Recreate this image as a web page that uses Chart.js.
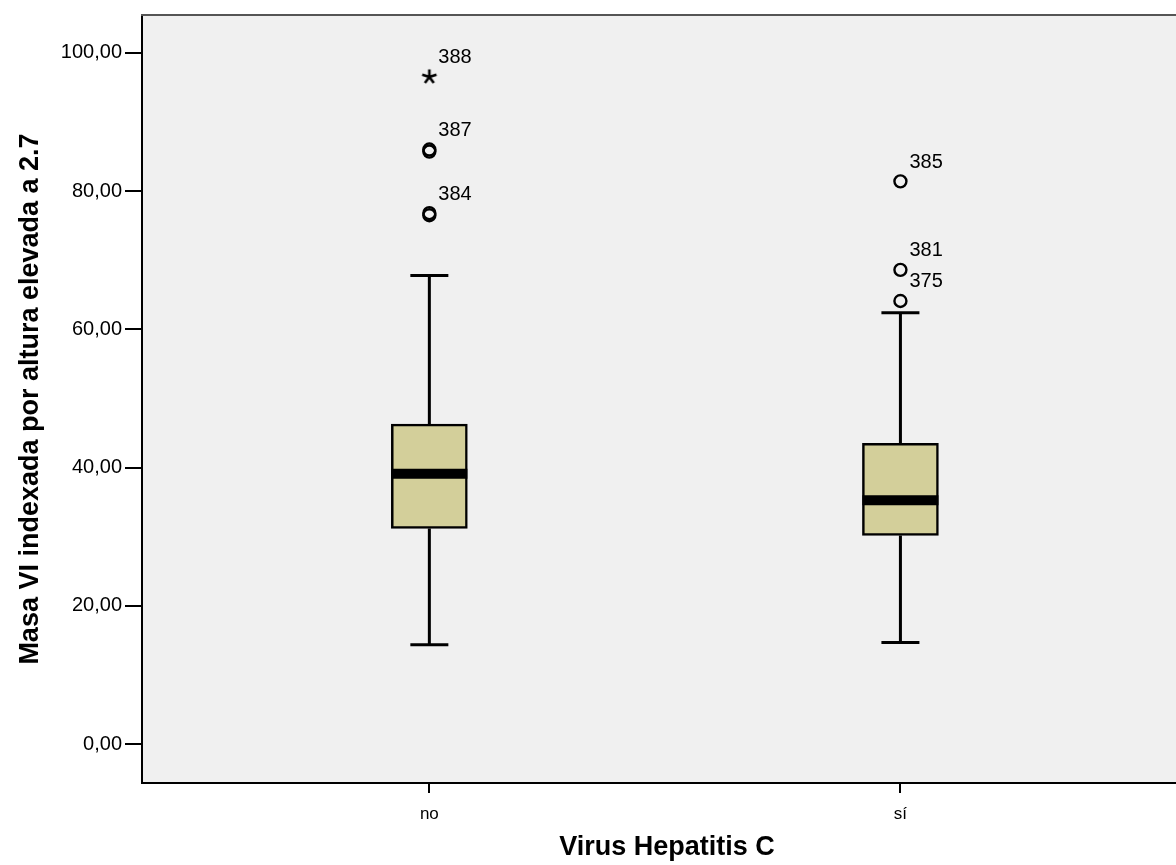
<!DOCTYPE html>
<html>
<head>
<meta charset="utf-8">
<script src="https://cdn.jsdelivr.net/npm/chart.js@4/dist/chart.umd.min.js"></script>
<style>
  html, body { margin: 0; padding: 0; background: #ffffff; }
  #wrap { width: 1176px; height: 865px; }
</style>
</head>
<body>
<div id="wrap"><canvas id="c" width="1176" height="865"></canvas></div>
<script>
// ---- data ----
const categories = ['no', 'sí'];
const groupX = [1, 2];
const whiskerLow = [14.4, 14.7];
const quartile1 = [31.2, 30.2];
const medians = [39.1, 35.3];
const quartile3 = [46.3, 43.5];
const whiskerHigh = [67.8, 62.4];

const outlierGroup = [0, 0, 0, 0, 0, 1, 1, 1];
const outlierValue = [96.5, 86.0, 85.7, 76.8, 76.5, 81.4, 68.6, 64.1];
const outlierLabel = ['388', '387', '', '384', '', '385', '381', '375'];
const outlierStar  = [true, false, false, false, false, false, false, false];

const yTicks = [0, 20, 40, 60, 80, 100];
const xTitle = 'Virus Hepatitis C';
const yTitle = 'Masa VI indexada por altura elevada a 2.7';

// ---- style constants ----
const FONT = "'Liberation Sans', Arial, Helvetica, sans-serif";
const BOX_FILL = '#d3cf9a';
const PLOT_BG = '#f0f0f0';
const BOX_PX = 76;      // box width in pixels
const CAP_PX = 38;      // whisker cap width in pixels
const X_MIN = 0.39, X_MAX = 2.585;
const X_PX_PER_UNIT = (1176 - 142) / (X_MAX - X_MIN);
const boxHalf = BOX_PX / 2 / X_PX_PER_UNIT;
const capHalf = CAP_PX / 2 / X_PX_PER_UNIT;

// asterisk marker (5 arms) as a small canvas point style
const starCanvas = (() => {
  const c = document.createElement('canvas');
  c.width = 18; c.height = 18;
  const g = c.getContext('2d');
  g.strokeStyle = '#000'; g.lineWidth = 2.6; g.lineCap = 'butt';
  const cx = 9, cy = 9, r = 7.5;
  g.beginPath();
  for (let k = 0; k < 5; k++) {
    const ang = -Math.PI / 2 + k * 2 * Math.PI / 5;
    g.moveTo(cx, cy);
    g.lineTo(cx + r * Math.cos(ang), cy + r * Math.sin(ang));
  }
  g.stroke();
  return c;
})();

// build datasets from arrays
const boxData = groupX.map((x, i) => ({ x: x, y: [quartile1[i], quartile3[i]] }));
const medianData = [];
const whiskerData = [];
groupX.forEach((x, i) => {
  medianData.push({ x: x - boxHalf, y: medians[i] }, { x: x + boxHalf, y: medians[i] }, { x: x, y: null });
  whiskerData.push({ x: x, y: quartile1[i] }, { x: x, y: whiskerLow[i] }, { x: x, y: null });
  whiskerData.push({ x: x, y: quartile3[i] }, { x: x, y: whiskerHigh[i] }, { x: x, y: null });
  whiskerData.push({ x: x - capHalf, y: whiskerLow[i] }, { x: x + capHalf, y: whiskerLow[i] }, { x: x, y: null });
  whiskerData.push({ x: x - capHalf, y: whiskerHigh[i] }, { x: x + capHalf, y: whiskerHigh[i] }, { x: x, y: null });
});
const outlierData = outlierValue.map((v, i) => ({ x: groupX[outlierGroup[i]], y: v }));

const bgPlugin = {
  id: 'plotBg',
  beforeDraw(chart) {
    const { ctx, chartArea: a } = chart;
    ctx.save();
    ctx.fillStyle = PLOT_BG;
    ctx.fillRect(a.left, a.top, a.right - a.left, a.bottom - a.top);
    ctx.restore();
  },
  afterDraw(chart) {
    const { ctx, chartArea: a } = chart;
    ctx.save();
    ctx.strokeStyle = '#555555';
    ctx.lineWidth = 2;
    ctx.beginPath();
    ctx.moveTo(a.left - 1, a.top);
    ctx.lineTo(a.right, a.top);
    ctx.stroke();
    // outlier labels
    const xs = chart.scales.x, ys = chart.scales.y;
    ctx.fillStyle = '#000';
    ctx.font = '20px ' + FONT;
    ctx.textAlign = 'left';
    ctx.textBaseline = 'middle';
    outlierData.forEach((p, i) => {
      if (!outlierLabel[i]) return;
      const px = xs.getPixelForValue(p.x), py = ys.getPixelForValue(p.y);
      ctx.fillText(outlierLabel[i], px + 9, py - 19);
    });
    // x axis title (slightly right of the plot centre, as in the reference)
    ctx.font = 'bold 27px ' + FONT;
    ctx.textAlign = 'center';
    ctx.fillText(xTitle, (a.left + a.right) / 2 + 8, xs.bottom - 17);
    ctx.restore();
  }
};

new Chart(document.getElementById('c'), {
  type: 'bar',
  data: {
    datasets: [
      {
        type: 'scatter', label: 'outliers', data: outlierData, order: 0,
        pointStyle: outlierData.map((p, i) => outlierStar[i] ? starCanvas : 'circle'),
        pointRadius: 6,
        pointBorderWidth: 2.4, pointBorderColor: '#000', pointBackgroundColor: 'rgba(0,0,0,0)',
        pointHoverRadius: 0
      },
      {
        type: 'line', label: 'median', data: medianData, order: 1,
        borderColor: '#000', borderWidth: 10, pointRadius: 0, spanGaps: false, borderCapStyle: 'butt'
      },
      {
        type: 'bar', label: 'box', data: boxData, order: 2,
        backgroundColor: BOX_FILL, borderColor: '#000', borderWidth: 2.5,
        borderSkipped: false, barThickness: BOX_PX
      },
      {
        type: 'line', label: 'whiskers', data: whiskerData, order: 3,
        borderColor: '#000', borderWidth: 3, pointRadius: 0, spanGaps: false, borderCapStyle: 'butt'
      }
    ]
  },
  options: {
    responsive: false,
    animation: false,
    events: [],
    layout: { autoPadding: false, padding: { top: 15, left: 0, right: 0, bottom: 0 } },
    plugins: { legend: { display: false }, tooltip: { enabled: false } },
    scales: {
      x: {
        type: 'linear', min: X_MIN, max: X_MAX, offset: false,
        afterFit(s) { s.height = 82; },
        afterBuildTicks(s) { s.ticks = groupX.map(v => ({ value: v })); },
        border: { display: true, color: '#000', width: 2 },
        grid: { display: true, drawOnChartArea: false, drawTicks: true, tickLength: 10, color: '#000', lineWidth: 2, offset: false },
        ticks: {
          color: '#000', font: { family: FONT, size: 17 }, padding: 11, maxRotation: 0,
          callback: (v) => categories[groupX.indexOf(v)] || ''
        },
        title: { display: false }
      },
      y: {
        type: 'linear', min: -5.6, max: 105.45,
        afterFit(s) { s.width = 142; },
        afterBuildTicks(s) { s.ticks = yTicks.map(v => ({ value: v })); },
        border: { display: true, color: '#000', width: 2 },
        grid: { display: true, drawOnChartArea: false, drawTicks: true, tickLength: 17, color: '#000', lineWidth: 2 },
        ticks: {
          color: '#000', font: { family: FONT, size: 20 }, padding: 3,
          callback: (v) => v.toFixed(2).replace('.', ',')
        },
        title: { display: true, text: yTitle, color: '#000',
                 font: { family: FONT, size: 27, weight: 'bold' }, padding: { top: 14, bottom: 0 } }
      }
    }
  },
  plugins: [bgPlugin]
});
</script>
</body>
</html>
